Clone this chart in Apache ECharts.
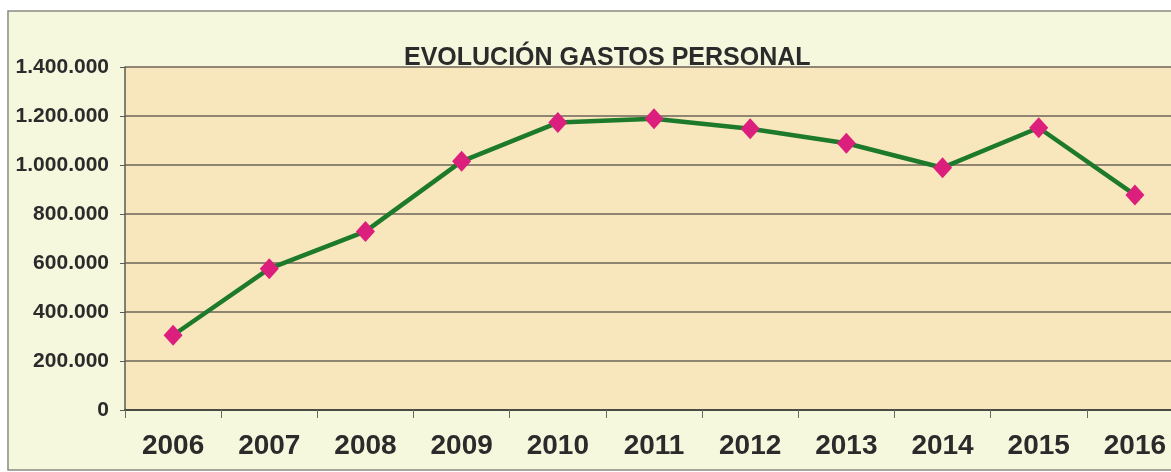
<!DOCTYPE html>
<html>
<head>
<meta charset="utf-8">
<script src="https://cdn.jsdelivr.net/npm/echarts@6/dist/echarts.min.js"></script>
<style>
  html, body { margin: 0; padding: 0; background: #ffffff; }
  #chart { width: 1171px; height: 472px; }
</style>
</head>
<body>
<div id="chart"></div>
<script>
const titleText = 'EVOLUCIÓN GASTOS PERSONAL';
const years = ['2006', '2007', '2008', '2009', '2010', '2011', '2012', '2013', '2014', '2015', '2016'];
const gastos = [305000, 577000, 729000, 1015000, 1173000, 1189000, 1148000, 1089000, 989000, 1152000, 878000];
const yMin = 0;
const yMax = 1400000;
const yStep = 200000;

function fmt(v) {
  return String(v).replace(/\B(?=(\d{3})+(?!\d))/g, '.');
}

const chart = echarts.init(document.getElementById('chart'), null, { renderer: 'canvas' });
chart.setOption({
  backgroundColor: '#ffffff',
  animation: false,
  graphic: [{
    type: 'rect',
    z: -10,
    silent: true,
    shape: { x: 8, y: 11, width: 1180, height: 459 },
    style: { fill: '#f6f8dd', stroke: '#8a8a84', lineWidth: 1.5 }
  }],
  title: {
    text: titleText,
    left: 404,
    top: 46,
    padding: 0,
    textStyle: {
      fontFamily: '"Liberation Sans", Arial, sans-serif',
      fontWeight: 'bold',
      fontSize: 25,
      color: '#2b2b2b'
    }
  },
  grid: {
    left: 125,
    width: 1058,
    top: 67,
    bottom: 62,
    outerBoundsMode: 'none',
    containLabel: false,
    show: true,
    backgroundColor: '#f8e6bd',
    borderWidth: 0
  },
  xAxis: {
    type: 'category',
    data: years,
    boundaryGap: true,
    axisLine: { show: true, lineStyle: { color: '#4a4a44', width: 2 } },
    axisTick: { show: true, interval: 0, length: 8, lineStyle: { color: '#6a6a64', width: 1 } },
    axisLabel: {
      interval: 0,
      margin: 22,
      fontFamily: '"Liberation Sans", Arial, sans-serif',
      fontWeight: 'bold',
      fontSize: 28,
      color: '#2b2b2b'
    },
    splitLine: { show: false }
  },
  yAxis: {
    type: 'value',
    min: yMin,
    max: yMax,
    interval: yStep,
    axisLine: { show: true, lineStyle: { color: '#5a5a54', width: 1.5 } },
    axisTick: { show: true, length: 5, lineStyle: { color: '#5a5a54', width: 1 } },
    axisLabel: {
      margin: 16,
      formatter: fmt,
      fontFamily: '"Liberation Sans", Arial, sans-serif',
      fontWeight: 'bold',
      fontSize: 21,
      color: '#2b2b2b'
    },
    splitLine: { show: true, lineStyle: { color: '#6e6558', width: 1.5 } }
  },
  series: [{
    type: 'line',
    data: gastos,
    symbol: 'diamond',
    symbolSize: [19, 21],
    itemStyle: { color: '#dc1f7c' },
    lineStyle: { color: '#1d7a2c', width: 4.5 },
    z: 5
  }]
});
</script>
</body>
</html>
